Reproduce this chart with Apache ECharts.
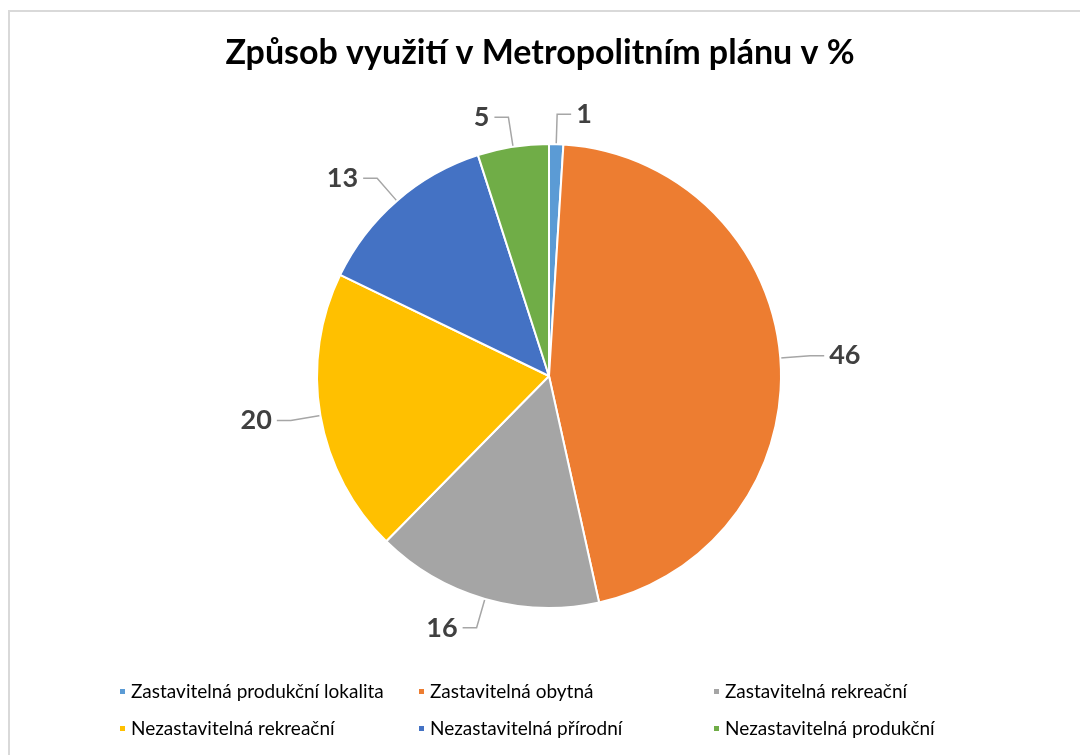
<!DOCTYPE html>
<html>
<head>
<meta charset="utf-8">
<script src="https://cdn.jsdelivr.net/npm/echarts@6/dist/echarts.min.js"></script>
<style>
  html, body { margin: 0; padding: 0; background: #fff; }
  #chart { width: 1080px; height: 755px; }
</style>
</head>
<body>
<div id="chart"></div>
<script>
// kategorie a hodnoty (%)
const categories = [
  'Zastavitelná produkční lokalita',
  'Zastavitelná obytná',
  'Zastavitelná rekreační',
  'Nezastavitelná rekreační',
  'Nezastavitelná přírodní',
  'Nezastavitelná produkční'
]
const values = [1, 46, 16, 20, 13, 5]
const colors = ['#5B9BD5', '#ED7D31', '#A5A5A5', '#FFC000', '#4472C4', '#70AD47']

const chart = echarts.init(document.getElementById('chart'))
const seriesData = categories.map((name, i) => {
  return { name: name, value: values[i] }
})

// legenda ve třech sloupcích po dvou položkách
const legendCols = [113, 412, 707]
const legends = legendCols.map((x, col) => {
  return {
    orient: 'vertical',
    left: x,
    top: 677,
    data: [categories[col], categories[col + 3]],
    icon: 'rect',
    itemWidth: 7,
    itemHeight: 7,
    itemGap: 18,
    textStyle: {
      fontFamily: 'Lato',
      fontSize: 19,
      color: '#000'
    }
  }
})

chart.setOption({
  animation: false,
  color: colors,
  title: {
    text: 'Způsob využití v Metropolitním plánu v %',
    left: 'center',
    top: 31,
    textStyle: {
      fontFamily: 'Lato',
      fontWeight: 'bold',
      fontSize: 34,
      color: '#000'
    }
  },
  // rámeček grafu
  graphic: [{
    type: 'rect',
    shape: { x: 9, y: 11, width: 1100, height: 800 },
    style: { fill: 'none', stroke: '#d9d9d9', lineWidth: 2 },
    silent: true
  }],
  legend: legends,
  series: [
    {
      type: 'pie',
      center: [549, 376],
      radius: 232,
      startAngle: 90,
      clockwise: true,
      data: seriesData,
      itemStyle: {
        borderColor: '#fff',
        borderWidth: 2
      },
      label: {
        show: true,
        formatter: '{c}',
        fontFamily: 'Lato',
        fontWeight: 'bold',
        fontSize: 27,
        color: '#404040',
        distanceToLabelLine: 5
      },
      labelLine: {
        show: true,
        length: 30,
        length2: 14,
        lineStyle: { color: '#a6a6a6', width: 1.5 }
      }
    }
  ]
})
</script>
</body>
</html>
